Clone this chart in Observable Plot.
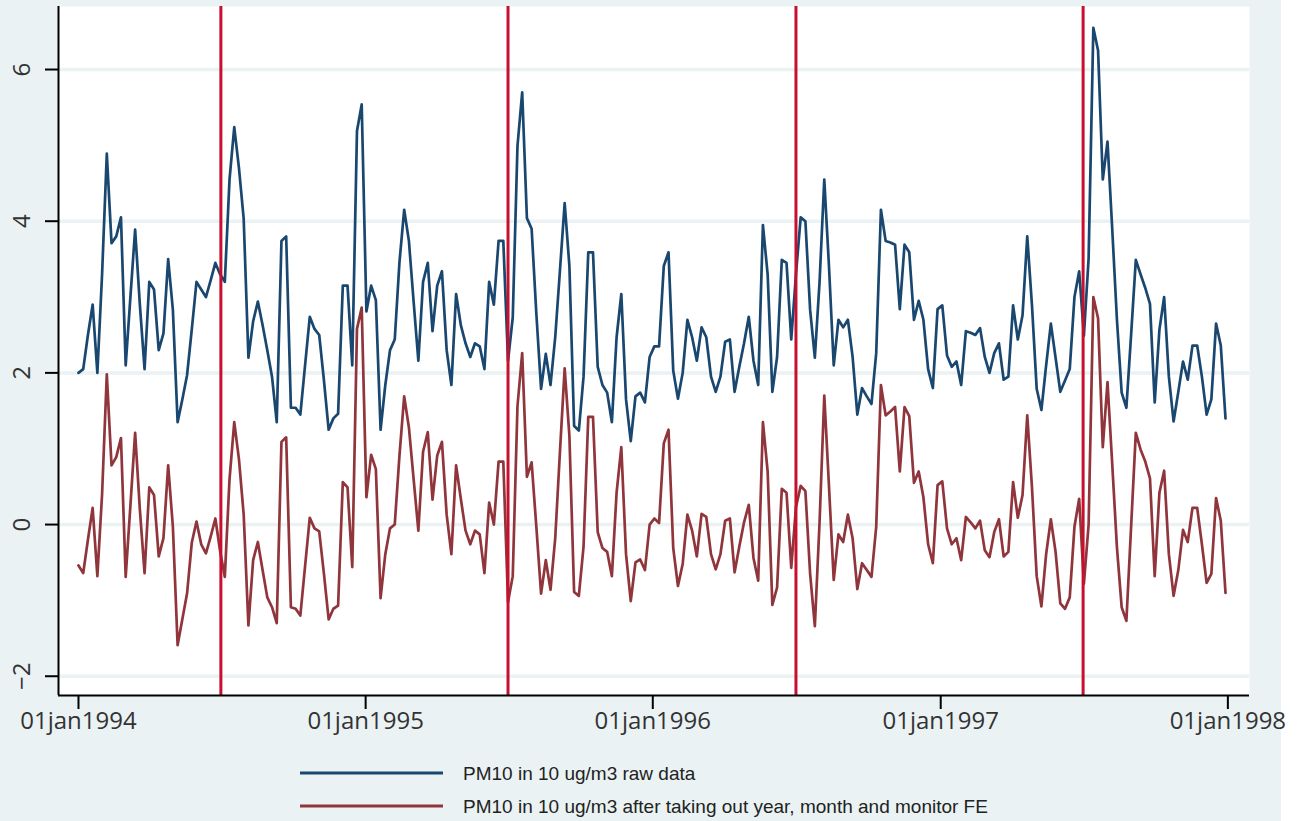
<!DOCTYPE html>
<html><head><meta charset="utf-8">
<script src="https://cdn.jsdelivr.net/npm/d3@7"></script>
<script src="https://cdn.jsdelivr.net/npm/@observablehq/plot@0.6"></script>
<style>
html,body{margin:0;padding:0;background:#fff;}
#fig{position:relative;width:1281px;height:821px;background:#EAF2F3;}
#chart{position:absolute;left:0;top:0;}
#legend{position:absolute;left:0;top:745px;}
</style></head><body>
<div id="fig"><div id="chart"></div><div id="legend"></div></div>
<script>
// ---- data (every 6 days from 01jan1994) ----
const startDate = "1994-01-01";
const stepDays = 6;
const rawPM10 = [
2.00,2.05,2.50,2.90,2.00,3.30,4.89,3.71,3.80,4.05,2.10,3.00,3.89,2.90,2.05,3.20,3.10,2.30,2.52,3.50,
2.83,1.35,1.65,1.97,2.57,3.20,3.10,3.00,3.22,3.45,3.30,3.20,4.55,5.24,4.70,4.03,2.20,2.68,2.94,2.63,
2.30,1.95,1.35,3.74,3.80,1.54,1.54,1.45,2.10,2.74,2.58,2.50,1.90,1.25,1.40,1.46,3.15,3.15,2.10,5.19,
5.54,2.81,3.15,2.96,1.25,1.84,2.30,2.44,3.46,4.15,3.74,2.94,2.16,3.20,3.45,2.55,3.15,3.34,2.30,1.84,
3.04,2.63,2.39,2.21,2.39,2.35,2.05,3.20,2.90,3.74,3.74,2.16,2.73,4.99,5.70,4.04,3.90,2.78,1.79,2.25,
1.84,2.47,3.35,4.24,3.41,1.30,1.24,1.95,3.59,3.59,2.08,1.84,1.74,1.35,2.47,3.04,1.65,1.10,1.69,1.74,
1.61,2.21,2.35,2.35,3.41,3.59,2.03,1.66,2.00,2.70,2.47,2.16,2.60,2.47,1.95,1.75,1.95,2.41,2.44,1.75,
2.08,2.39,2.74,2.16,1.84,3.95,3.30,1.75,2.21,3.49,3.45,2.44,3.30,4.05,4.00,2.83,2.20,3.20,4.55,3.40,
2.10,2.70,2.60,2.70,2.21,1.45,1.80,1.69,1.59,2.26,4.15,3.74,3.72,3.69,2.84,3.69,3.59,2.70,2.95,2.70,
2.05,1.80,2.84,2.89,2.23,2.08,2.15,1.84,2.55,2.53,2.50,2.59,2.21,2.00,2.26,2.39,1.91,1.95,2.89,2.44,
2.76,3.80,2.89,1.79,1.51,2.10,2.65,2.20,1.75,1.90,2.05,3.00,3.34,2.49,3.51,6.55,6.25,4.55,5.05,3.90,
2.70,1.74,1.54,2.50,3.49,3.30,3.12,2.91,1.61,2.57,3.00,1.95,1.36,1.75,2.15,1.91,2.36,2.36,1.95,1.45,
1.65,2.65,2.36,1.40
];
const fePM10 = [
-0.54,-0.64,-0.20,0.22,-0.68,0.40,1.98,0.78,0.89,1.14,-0.69,0.25,1.21,0.20,-0.64,0.49,0.39,-0.42,-0.18,0.78,
-0.03,-1.59,-1.25,-0.91,-0.24,0.04,-0.26,-0.38,-0.16,0.08,-0.35,-0.69,0.60,1.35,0.86,0.13,-1.33,-0.47,-0.23,-0.60,
-0.96,-1.09,-1.30,1.09,1.15,-1.09,-1.11,-1.20,-0.55,0.09,-0.05,-0.09,-0.65,-1.25,-1.11,-1.07,0.56,0.49,-0.56,2.58,
2.86,0.36,0.92,0.73,-0.97,-0.39,-0.05,0.00,0.91,1.69,1.28,0.60,-0.08,0.96,1.22,0.33,0.91,1.09,0.13,-0.39,
0.78,0.34,-0.08,-0.26,-0.08,-0.13,-0.64,0.29,0.00,0.83,0.83,-1.02,-0.68,1.56,2.26,0.63,0.82,-0.03,-0.91,-0.47,
-0.86,-0.18,0.96,2.06,1.17,-0.89,-0.94,-0.29,1.42,1.42,-0.10,-0.31,-0.36,-0.68,0.42,1.02,-0.39,-1.01,-0.50,-0.46,
-0.60,0.00,0.08,0.02,1.07,1.25,-0.31,-0.81,-0.52,0.13,-0.08,-0.42,0.14,0.10,-0.39,-0.59,-0.39,0.05,0.08,-0.63,
-0.29,0.03,0.26,-0.44,-0.74,1.35,0.70,-1.06,-0.83,0.47,0.42,-0.57,0.23,0.51,0.44,-0.65,-1.34,0.03,1.70,0.50,
-0.73,-0.13,-0.23,0.13,-0.18,-0.85,-0.51,-0.60,-0.69,-0.03,1.84,1.44,1.49,1.55,0.70,1.55,1.43,0.55,0.70,0.36,
-0.26,-0.51,0.52,0.57,-0.05,-0.26,-0.18,-0.47,0.10,0.03,-0.05,0.05,-0.34,-0.43,-0.10,0.07,-0.42,-0.36,0.56,0.09,
0.39,1.44,0.49,-0.68,-1.08,-0.39,0.07,-0.36,-1.04,-1.11,-0.96,-0.03,0.34,-0.78,0.00,3.00,2.72,1.02,1.88,0.80,
-0.30,-1.09,-1.27,-0.03,1.21,0.99,0.83,0.61,-0.68,0.42,0.71,-0.39,-0.94,-0.60,-0.07,-0.23,0.22,0.22,-0.26,-0.77,
-0.65,0.35,0.05,-0.90
];
const yTicks = [-2, 0, 2, 4, 6];
const xTickDates = ["1994-01-01","1995-01-01","1996-01-01","1997-01-01","1998-01-01"];
const xLineDates = ["1994-07-01","1995-07-01","1996-07-01","1997-07-01"];
const seriesLabels = ["PM10 in 10 ug/m3 raw data",
  "PM10 in 10 ug/m3 after taking out year, month and monitor FE"];
const seriesColors = ["#1A476F", "#90353B"];

// ---- derived ----
const DAY = 864e5;
const t0 = Date.parse(startDate);
const dates = rawPM10.map((_, i) => new Date(t0 + i * stepDays * DAY));
const rawRows = rawPM10.map((v, i) => ({date: dates[i], value: v}));
const feRows = fePM10.map((v, i) => ({date: dates[i], value: v}));
const xDomain = [new Date(Date.parse(xTickDates[0]) - 25.4 * DAY),
                 new Date(Date.parse(xTickDates[4]) + 27.5 * DAY)];
const yDomain = [-2.254, 6.831];
const tickDates = xTickDates.map(d => new Date(d));
const lineDates = xLineDates.map(d => new Date(d));
const fmtX = d => "01jan" + d.getUTCFullYear();
const fmtY = d => d < 0 ? "\u2212" + Math.abs(d) : String(d);
const FONT = "'Open Sans', 'Liberation Sans', Arial, sans-serif";

const chart = Plot.plot({
  width: 1281, height: 745,
  marginLeft: 58, marginRight: 32, marginTop: 6, marginBottom: 50,
  style: {background: "transparent", overflow: "visible", fontFamily: FONT},
  x: {type: "utc", domain: xDomain, axis: null},
  y: {domain: yDomain, axis: null},
  marks: [
    Plot.frame({fill: "white", stroke: "none"}),
    Plot.gridY(yTicks, {stroke: "#EAF2F3", strokeOpacity: 1, strokeWidth: 3.5}),
    Plot.lineY(rawRows, {x: "date", y: "value", stroke: seriesColors[0], strokeWidth: 2.7, strokeLinejoin: "round"}),
    Plot.lineY(feRows, {x: "date", y: "value", stroke: seriesColors[1], strokeWidth: 2.7, strokeLinejoin: "round"}),
    Plot.ruleX(lineDates, {stroke: "#C8102E", strokeWidth: 3}),
    Plot.ruleX([xDomain[0]], {stroke: "black", strokeWidth: 2}),
    Plot.ruleY([yDomain[0]], {stroke: "black", strokeWidth: 2}),
    Plot.axisY({ticks: yTicks, tickSize: 13, tickFormat: () => "", label: null, stroke: "black", strokeWidth: 2}),
    Plot.text(yTicks, {x: () => xDomain[0], y: d => d, text: fmtY, rotate: -90, dx: -36,
      fontSize: 24, fill: "#333", fontFamily: FONT}),
    Plot.axisX({ticks: tickDates, tickSize: 14, tickFormat: () => "", label: null, stroke: "black", strokeWidth: 2}),
    Plot.axisX({ticks: tickDates, tickSize: 0, tickPadding: 16, tickFormat: fmtX, label: null,
      fontSize: 24, fill: "#333", fontFamily: FONT})
  ]
});
document.getElementById("chart").appendChild(chart);

// ---- legend ----
const leg = d3.select("#legend").append("svg").attr("width", 1281).attr("height", 76);
const legY = [28, 61];
seriesLabels.forEach((lab, i) => {
  leg.append("line").attr("x1", 300).attr("x2", 443).attr("y1", legY[i]).attr("y2", legY[i])
    .attr("stroke", seriesColors[i]).attr("stroke-width", 3);
  leg.append("text").attr("x", 463).attr("y", legY[i]).attr("dy", "0.35em")
    .attr("font-family", "'Liberation Sans', Arial, sans-serif").attr("font-size", 19)
    .attr("fill", "#222").text(lab);
});
</script>
</body></html>
